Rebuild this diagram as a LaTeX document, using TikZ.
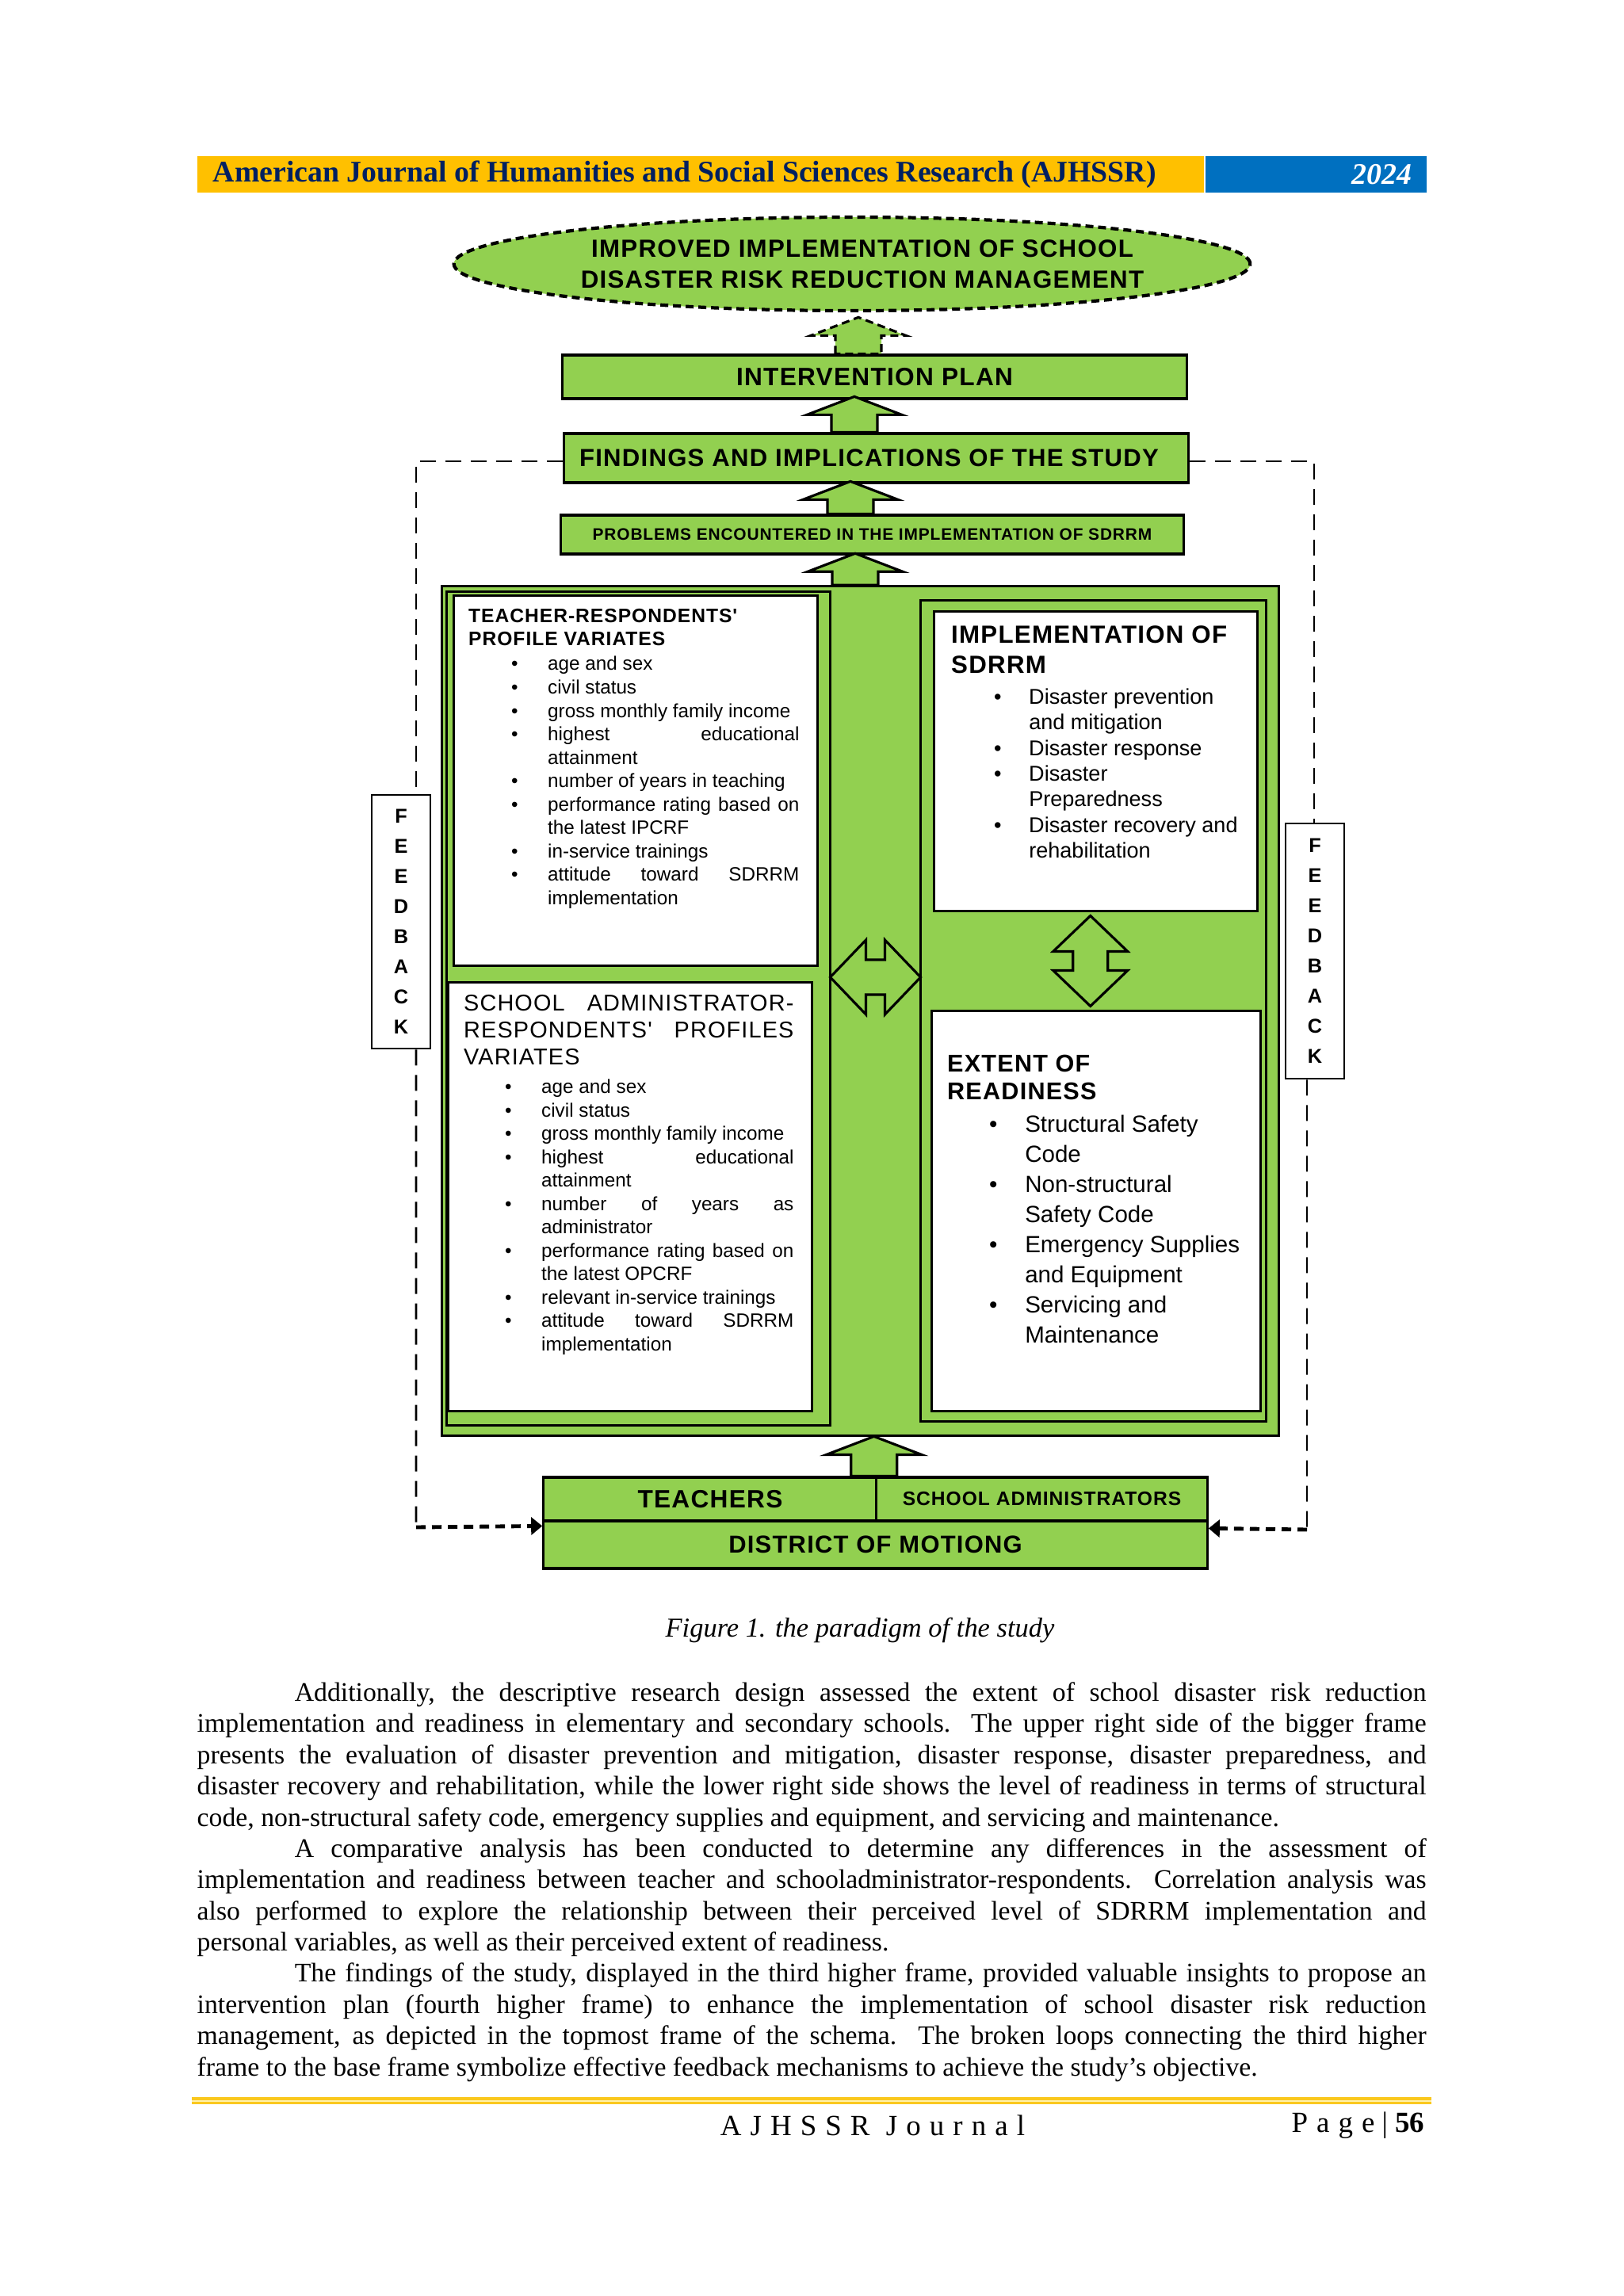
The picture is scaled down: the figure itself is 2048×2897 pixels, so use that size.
\documentclass[tikz,border=0pt]{standalone}
\usepackage{fontspec}
\setmainfont{Liberation Serif}
\setsansfont{Liberation Sans}
\newfontfamily\boxfont[LetterSpace=4]{Liberation Sans}
\newfontfamily\spacedserif[LetterSpace=30]{Liberation Serif}
\usetikzlibrary{shapes.geometric,arrows.meta,calc,positioning}

\definecolor{grn}{RGB}{146,208,80}
\definecolor{hdrorange}{RGB}{255,192,0}
\definecolor{hdrblue}{RGB}{0,112,192}
\definecolor{jnlnavy}{RGB}{0,32,96}
\definecolor{rulegold}{RGB}{250,200,30}
\definecolor{rulepale}{RGB}{255,240,170}

% bullet lists inside the white boxes, one line at a time
\newlength{\bulskip}
\newlength{\bulgap}
\newlength{\itmw}
\def\itmfont{\sffamily}
\newcommand{\normspace}{\spaceskip=0pt\xspaceskip=0pt\relax}
\newcommand{\itm}[1]{\par\noindent\hspace*{\bulskip}\makebox[\bulgap][l]{\textbullet}#1\par}
\newcommand{\icont}[1]{\par\noindent\hspace*{\bulskip}\hspace*{\bulgap}#1\par}
\newcommand{\jst}[1]{\makebox[\itmw][s]{#1}}

\tikzset{
    pics/uparr/.style={code={
        \draw[blkarrow] (-29,0) -- (-29,-#1+23) -- (-60,-#1+23) -- (0,-#1)
            -- (60,-#1+23) -- (29,-#1+23) -- (29,0) -- cycle;
    }},
    pics/dblarr/.style={code={
        \draw[blkarrow] (-57,0) -- (-12,-47) -- (-12,-22) -- (12,-22) -- (12,-47)
            -- (57,0) -- (12,47) -- (12,22) -- (-12,22) -- (-12,47) -- cycle;
    }}
}

\begin{document}
\begin{tikzpicture}[
    x=0.01cm, y=-0.01cm,
    gbox/.style={draw, fill=grn, line width=0.9pt, inner sep=0pt},
    wbox/.style={draw, fill=white, line width=0.8pt, inner sep=0pt},
    panel/.style={draw, fill=grn, line width=0.8pt, inner sep=0pt},
    capsb/.style={font=\boxfont\bfseries\fontsize{#1}{12}\selectfont},
    txt/.style={inner sep=0pt, align=left, anchor=north west},
    fbbox/.style={draw, fill=white, line width=0.7pt, minimum width=0.74cm, inner sep=0pt,
        align=center, font=\sffamily\bfseries\fontsize{7.2}{10.8}\selectfont},
    fbline/.style={line width=0.55pt, dash pattern=on 0.2cm off 0.12cm},
    fbarr/.style={line width=1.4pt, dash pattern=on 0.12cm off 0.08cm,
        -{Triangle[length=1.4mm,width=2.2mm]}},
    blkarrow/.style={draw, fill=grn, line width=0.9pt, line join=miter}
]
\fill[white] (0,0) rectangle (2048,2897);
\useasboundingbox (0,0) rectangle (2048,2897);

% journal header
\node[fill=hdrorange, minimum width=12.7cm, minimum height=0.46cm, inner sep=0pt, anchor=north west] (jbar) at (248,196) {};
\node[fill=hdrblue, minimum width=2.79cm, minimum height=0.46cm, inner sep=0pt, anchor=north west] (ybar) at (jbar.north east) {};
\node[anchor=west, inner sep=0pt, text=jnlnavy, font=\bfseries\fontsize{10.75}{12}\selectfont] (jname) at ([xshift=0.2cm]jbar.west) {American Journal of Humanities and Social Sciences Research (AJHSSR)};
\node[anchor=east, inner sep=0pt, text=white, font=\bfseries\itshape\fontsize{10.75}{12}\selectfont] (jyear) at ([xshift=-0.19cm]ybar.east) {2024};

% upper chain
\node[ellipse, draw, fill=grn, line width=1.2pt, dash pattern=on 0.1cm off 0.06cm,
    minimum width=10.04cm, minimum height=1.18cm, inner sep=0pt, align=center,
    font=\boxfont\bfseries\fontsize{8.9}{11}\selectfont] (goal) at (1075,333)
    {\hspace*{0.13cm}IMPROVED IMPLEMENTATION OF SCHOOL\hspace*{-0.13cm}\\\hspace*{0.13cm}DISASTER RISK REDUCTION MANAGEMENT\hspace*{-0.13cm}};
\node[gbox, minimum width=7.87cm, minimum height=0.55cm, capsb=9] (intv) at (1103.5,475.5) {INTERVENTION PLAN};
\node[gbox, minimum width=7.87cm, minimum height=0.62cm, capsb=8.85] (fnd) at (1105.5,578) {FINDINGS AND IMPLICATIONS OF THE STUDY\hspace*{0.18cm}};
\node[gbox, minimum width=7.85cm, minimum height=0.49cm, capsb=5.95] (prob) at (1100.5,674.5) {PROBLEMS ENCOUNTERED IN THE IMPLEMENTATION OF SDRRM};

% big frame
\node[panel, minimum width=10.55cm, minimum height=10.71cm] (outer) at (1085.5,1275.5) {};
\node[panel, minimum width=4.83cm, minimum height=10.51cm] (lp) at (805.5,1272.5) {};
\node[panel, minimum width=4.35cm, minimum height=10.35cm] (rp) at (1379.5,1275.5) {};
\node[wbox, minimum width=4.58cm, minimum height=4.66cm] (teach) at (802,985) {};
\node[wbox, minimum width=4.58cm, minimum height=5.4cm] (adm) at (795,1510) {};
\node[wbox, minimum width=4.07cm, minimum height=3.77cm] (impl) at (1382.5,960.5) {};
\node[wbox, minimum width=4.14cm, minimum height=5.04cm] (rdy) at (1383,1528) {};

\pic[dash pattern=on 0.1cm off 0.06cm] at ([xshift=-0.205cm]intv.north) {uparr=46};
\pic at ([xshift=-0.275cm]fnd.north) {uparr=45};
\pic at ([xshift=-0.275cm]prob.north) {uparr=41};
\pic at ([xshift=-0.065cm]outer.north) {uparr=40};
\pic at ($(lp.east)!0.5!(rp.west)+(0,-41)$) {dblarr};
\pic[rotate=90] at ($(impl.south)!0.5!(rdy.north)+(-7,0)$) {dblarr};

\node[txt, text width=4.2cm] (teachtxt) at ([xshift=0.19cm,yshift=-0.17cm]teach.north west) {%
    \normspace
    \setlength{\bulskip}{0.54cm}\setlength{\bulgap}{0.46cm}\setlength{\itmw}{3.17cm}%
    \def\itmfont{\sffamily\fontsize{6.9}{8.4}\selectfont}%
    {\boxfont\bfseries\fontsize{7}{8.4}\selectfont TEACHER-RESPONDENTS'\\PROFILE VARIATES\par}
    \itmfont\vspace{0.015cm}
    \itm{age and sex}
    \itm{civil status}
    \itm{gross monthly family income}
    \itm{\jst{highest educational}}
    \icont{attainment}
    \itm{number of years in teaching}
    \itm{\jst{performance rating based on}}
    \icont{the latest IPCRF}
    \itm{in-service trainings}
    \itm{\jst{attitude toward SDRRM}}
    \icont{implementation}};

\node[txt, text width=4.16cm] (admtxt) at ([xshift=0.2cm,yshift=-0.16cm]adm.north west) {%
    \normspace
    \setlength{\bulskip}{0.52cm}\setlength{\bulgap}{0.46cm}\setlength{\itmw}{3.18cm}%
    \def\itmfont{\sffamily\fontsize{6.9}{8.4}\selectfont}%
    {\boxfont\fontsize{8.2}{9.7}\selectfont SCHOOL\hfill ADMINISTRATOR-\\RESPONDENTS'\hfill PROFILES\\VARIATES\par}
    \itmfont\vspace{0.065cm}
    \itm{age and sex}
    \itm{civil status}
    \itm{gross monthly family income}
    \itm{\jst{highest educational}}
    \icont{attainment}
    \itm{\jst{number of years as}}
    \icont{administrator}
    \itm{\jst{performance rating based on}}
    \icont{the latest OPCRF}
    \itm{relevant in-service trainings}
    \itm{\jst{attitude toward SDRRM}}
    \icont{implementation}};

\node[txt, text width=3.9cm] (impltxt) at ([xshift=0.22cm,yshift=-0.18cm]impl.north west) {%
    \normspace
    \setlength{\bulskip}{0.54cm}\setlength{\bulgap}{0.44cm}\setlength{\itmw}{2.75cm}%
    \def\itmfont{\sffamily\fontsize{7.7}{9.2}\selectfont}%
    {\boxfont\bfseries\fontsize{8.9}{10.8}\selectfont IMPLEMENTATION OF\\SDRRM\par}
    \itmfont\vspace{0.07cm}
    \itm{Disaster prevention}
    \icont{and mitigation}
    \itm{Disaster response}
    \itm{Disaster}
    \icont{Preparedness}
    \itm{Disaster recovery and}
    \icont{rehabilitation}};

\node[txt, text width=3.9cm] (rdytxt) at ([xshift=0.2cm,yshift=-0.56cm]rdy.north west) {%
    \normspace
    \setlength{\bulskip}{0.53cm}\setlength{\bulgap}{0.45cm}\setlength{\itmw}{2.9cm}%
    \def\itmfont{\sffamily\fontsize{8.4}{10.8}\selectfont}%
    {\boxfont\bfseries\fontsize{8.7}{10}\selectfont EXTENT OF\\READINESS\par}
    \itmfont\vspace{0.03cm}
    \itm{Structural Safety}
    \icont{Code}
    \itm{Non-structural}
    \icont{Safety Code}
    \itm{Emergency Supplies}
    \icont{and Equipment}
    \itm{Servicing and}
    \icont{Maintenance}};

% respondents and locale
\node[gbox, minimum width=4.2cm, minimum height=0.55cm, capsb=9] (tch) at (896,1891.5) {TEACHERS};
\node[gbox, minimum width=4.17cm, minimum height=0.55cm, capsb=7] (sadm) at (1314.5,1891.5) {SCHOOL ADMINISTRATORS};
\node[gbox, minimum width=8.37cm, minimum height=0.6cm, capsb=8.8] (dist) at (1104.5,1949) {DISTRICT OF MOTIONG};
\pic at ([xshift=-0.05cm]tch.north east) {uparr=50};

% feedback loops
\node[fbbox, minimum height=3.2cm] (fbl) at (506,1163) {F\\E\\E\\D\\B\\A\\C\\K};
\node[fbbox, minimum height=3.22cm] (fbr) at (1659,1200) {F\\E\\E\\D\\B\\A\\C\\K};
\coordinate (fblc) at (525,1927);
\coordinate (fbrc) at (1649,1930);
\draw[fbline] ([yshift=-0.04cm]fnd.west) -| ([xshift=0.19cm]fbl.north);
\draw[fbline] ([yshift=-0.04cm]fnd.east) -| ([xshift=-0.01cm]fbr.north);
\draw[fbline, line width=0.8pt] ([xshift=0.19cm]fbl.south) -- (fblc);
\draw[fbline] ([xshift=-0.1cm]fbr.south) -- (fbrc);
\draw[fbarr] (fblc) -- ([yshift=-0.08cm]dist.north west);
\draw[fbarr] (fbrc) -- ([yshift=-0.11cm]dist.north east);

% caption and running text
\node[inner sep=0pt, font=\itshape\fontsize{9.8}{12}\selectfont] (cap) at (1085,2057) {Figure 1. the paradigm of the study};
\node[txt, text width=15.5cm, align=justify, font=\fontsize{9.6}{11.2}\selectfont] (body) at (248,2122) {%
\hspace*{1.23cm}Additionally, the descriptive research design assessed the extent of school disaster risk reduction\linebreak
implementation and readiness in elementary and secondary schools. The upper right side of the bigger frame\linebreak
presents the evaluation of disaster prevention and mitigation, disaster response, disaster preparedness, and\linebreak
disaster recovery and rehabilitation, while the lower right side shows the level of readiness in terms of structural\linebreak
code, non-structural safety code, emergency supplies and equipment, and servicing and maintenance.\par
\hspace*{1.23cm}A comparative analysis has been conducted to determine any differences in the assessment of\linebreak
implementation and readiness between teacher and schooladministrator-respondents.\ \ Correlation analysis was\linebreak
also performed to explore the relationship between their perceived level of SDRRM implementation and\linebreak
personal variables, as well as their perceived extent of readiness.\par
\hspace*{1.23cm}The findings of the study, displayed in the third higher frame, provided valuable insights to propose an\linebreak
intervention plan (fourth higher frame) to enhance the implementation of school disaster risk reduction\linebreak
management, as depicted in the topmost frame of the schema. The broken loops connecting the third higher\linebreak
frame to the base frame symbolize effective feedback mechanisms to achieve the study's objective.};

% footer
\fill[rulegold] (242,2646) rectangle (1806,2655);
\draw[rulepale, line width=0.02cm] (242,2650.5) -- (1806,2650.5);
\node[inner sep=0pt, font=\spacedserif\fontsize{10.5}{12}\selectfont] (jfoot) at (1101,2682) {AJHSSR Journal};
\node[anchor=east, inner sep=0pt, font=\fontsize{10.5}{12}\selectfont] (pg) at (1798,2682) {{\spacedserif Page} | \textbf{56}};
\end{tikzpicture}
\end{document}
